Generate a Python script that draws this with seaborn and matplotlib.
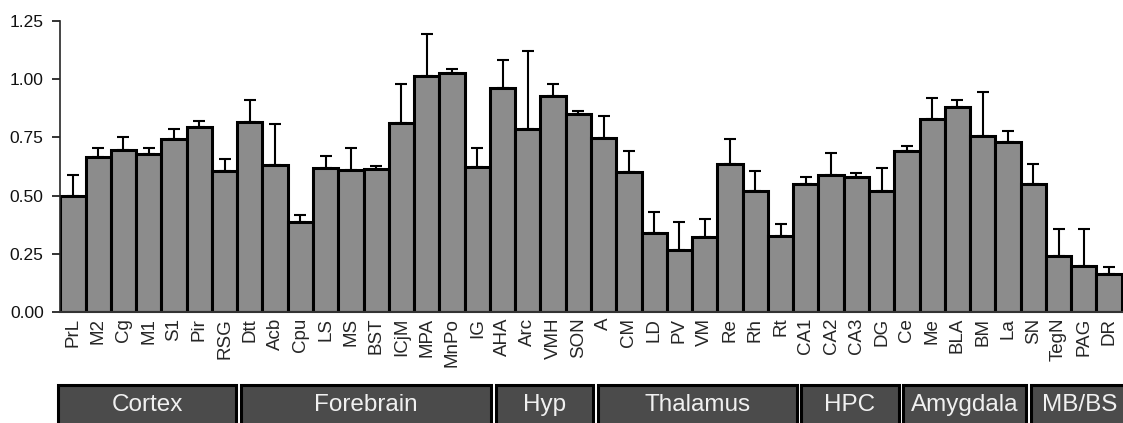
import numpy as np
import pandas as pd
import matplotlib
matplotlib.use("Agg")
import matplotlib.pyplot as plt
import matplotlib.transforms as mtransforms
from matplotlib.patches import Rectangle
import seaborn as sns

regions = ["PrL", "M2", "Cg", "M1", "S1", "Pir", "RSG",
           "Dtt", "Acb", "Cpu", "LS", "MS", "BST", "ICjM", "MPA", "MnPo", "IG",
           "AHA", "Arc", "VMH", "SON",
           "A", "CM", "LD", "PV", "VM", "Re", "Rh", "Rt",
           "CA1", "CA2", "CA3", "DG",
           "Ce", "Me", "BLA", "BM", "La",
           "SN", "TegN", "PAG", "DR"]

means = [0.500, 0.664, 0.696, 0.678, 0.741, 0.793, 0.605,
         0.816, 0.632, 0.385, 0.618, 0.610, 0.616, 0.813, 1.015, 1.026, 0.625,
         0.963, 0.785, 0.929, 0.852,
         0.748, 0.601, 0.339, 0.268, 0.322, 0.634, 0.519, 0.328,
         0.551, 0.588, 0.578, 0.522,
         0.693, 0.827, 0.882, 0.755, 0.732,
         0.552, 0.241, 0.198, 0.165]

sem = [0.090, 0.042, 0.054, 0.027, 0.045, 0.027, 0.054,
       0.096, 0.174, 0.032, 0.051, 0.096, 0.012, 0.166, 0.179, 0.018, 0.081,
       0.120, 0.337, 0.050, 0.013,
       0.095, 0.092, 0.092, 0.120, 0.079, 0.109, 0.086, 0.051,
       0.028, 0.093, 0.020, 0.097,
       0.018, 0.093, 0.028, 0.188, 0.044,
       0.082, 0.116, 0.160, 0.029]

group_names = ["Cortex", "Forebrain", "Hyp", "Thalamus", "HPC", "Amygdala", "MB/BS"]
group_sizes = [7, 10, 4, 8, 4, 5, 4]

sns.set_theme(style="ticks")
plt.rcParams["font.family"] = ["Liberation Sans", "DejaVu Sans"]

df = pd.DataFrame({"region": regions, "value": means})

fig = plt.figure(figsize=(11.23, 4.23), dpi=100)
ax = fig.add_axes([0.0537, 0.2617, 0.9463, 0.6893])

sns.barplot(data=df, x="region", y="value", color="#8c8c8c", saturation=1,
            width=1.0, edgecolor="black", linewidth=2.2, errorbar=None, ax=ax,
            zorder=2)

x = np.arange(len(regions))
ax.errorbar(x, means, yerr=[np.zeros(len(sem)), sem], fmt="none",
            ecolor="black", elinewidth=1.5, capsize=4.3, capthick=1.5,
            zorder=1)

ax.set_xlim(-0.5, 41.55)
ax.set_ylim(0, 1.25)
ax.set_yticks([0, 0.25, 0.5, 0.75, 1.0, 1.25])
ax.set_yticklabels(["0.00", "0.25", "0.50", "0.75", "1.00", "1.25"])
ax.set_xlabel("")
ax.set_ylabel("")
ax.tick_params(axis="y", length=6, width=1.2, labelsize=12.5, colors="#111111",
               pad=6)
ax.tick_params(axis="x", length=0, labelsize=13.5, pad=4, labelrotation=90)
for lbl in ax.get_xticklabels():
    lbl.set_va("top")
    lbl.set_ha("center")

sns.despine(ax=ax, top=True, right=True)
ax.spines["left"].set_linewidth(1.2)
ax.spines["bottom"].set_linewidth(1.5)
ax.spines["bottom"].set_color("#333333")


def box_edge(e):
    # boxes are laid out on a slightly wider pitch than the bars
    return e + 0.008 * (e + 0.5)


# region group boxes below the tick labels
trans = mtransforms.blended_transform_factory(ax.transData, ax.transAxes)
start = 0
half_gap = 0.09
for i, (name, size) in enumerate(zip(group_names, group_sizes)):
    left = box_edge(start - 0.5) + (half_gap if i > 0 else -0.08)
    right = box_edge(start + size - 0.5) - half_gap
    rect = Rectangle((left, -0.40), right - left, 0.151, transform=trans,
                     facecolor="#4b4b4b", edgecolor="black", linewidth=2.2,
                     clip_on=False)
    ax.add_patch(rect)
    ax.text((left + right) / 2, -0.318, name, transform=trans, ha="center",
            va="center", color="#f0f0f0", fontsize=17.5, clip_on=False)
    start += size

fig.savefig("out.png", dpi=100)
